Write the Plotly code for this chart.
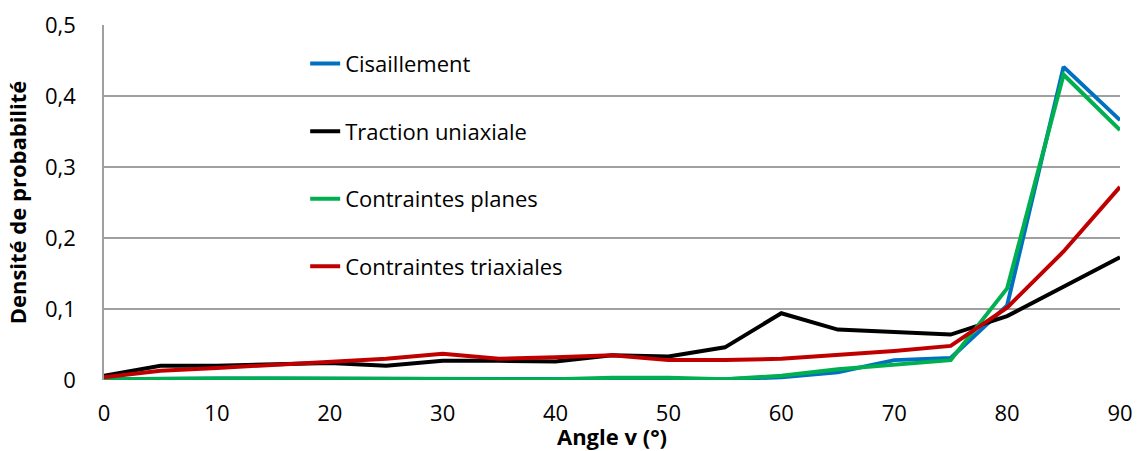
import plotly.graph_objects as go

# Angle v (degrees)
angles = [0, 5, 10, 15, 20, 25, 30, 35, 40, 45, 50, 55, 60, 65, 70, 75, 80, 85, 90]

# Probability density for each loading case
cisaillement = [0.001, 0.002, 0.002, 0.002, 0.002, 0.002, 0.002, 0.001, 0.001, 0.002, 0.002, 0.001, 0.004, 0.011, 0.028, 0.031, 0.105, 0.441, 0.366]
traction_uniaxiale = [0.006, 0.020, 0.020, 0.022, 0.024, 0.020, 0.027, 0.027, 0.026, 0.035, 0.033, 0.046, 0.094, 0.071, 0.067, 0.064, 0.090, 0.132, 0.173]
contraintes_planes = [0.001, 0.002, 0.002, 0.002, 0.002, 0.002, 0.002, 0.001, 0.001, 0.003, 0.003, 0.001, 0.006, 0.015, 0.021, 0.028, 0.129, 0.430, 0.352]
contraintes_triaxiales = [0.004, 0.013, 0.017, 0.021, 0.025, 0.030, 0.037, 0.030, 0.032, 0.035, 0.028, 0.028, 0.030, 0.035, 0.041, 0.048, 0.102, 0.181, 0.272]

series_names = ["Cisaillement", "Traction uniaxiale", "Contraintes planes", "Contraintes triaxiales"]
series_values = [cisaillement, traction_uniaxiale, contraintes_planes, contraintes_triaxiales]
series_colors = ["#0070C0", "#000000", "#00B050", "#C00000"]

y_tickvals = [0, 0.1, 0.2, 0.3, 0.4, 0.5]
y_ticktext = ["0", "0,1", "0,2", "0,3", "0,4", "0,5"]
x_tickvals = [0, 10, 20, 30, 40, 50, 60, 70, 80, 90]

FONT = "'Open Sans', 'Noto Sans', sans-serif"
SIZE = 22

fig = go.Figure()
for i, (name, vals, col) in enumerate(zip(series_names, series_values, series_colors)):
    fig.add_trace(go.Scatter(
        x=angles, y=vals, name=name, mode="lines",
        line=dict(color=col, width=4),
        legendgroup=f"g{i}",
    ))

fig.update_layout(
    width=1140, height=451,
    margin=dict(l=104, r=20, t=25, b=71),
    paper_bgcolor="white", plot_bgcolor="white",
    font=dict(family=FONT, size=SIZE, color="#000000"),
    legend=dict(
        x=0.198, y=0.95, xanchor="left", yanchor="top",
        font=dict(size=SIZE), tracegroupgap=36,
        bgcolor="rgba(0,0,0,0)",
    ),
    xaxis=dict(
        range=[0, 90], tickvals=x_tickvals, showgrid=False,
        zeroline=False, showline=False, ticks="",
        ticklabelstandoff=18, automargin=False,
        title=dict(text="<b>Angle v (°)</b>", font=dict(size=SIZE), standoff=6),
    ),
    yaxis=dict(
        range=[0, 0.5], tickvals=y_tickvals, ticktext=y_ticktext,
        showgrid=True, gridcolor="#A0A0A0", gridwidth=1.5,
        zeroline=False, showline=True, linecolor="#A0A0A0", linewidth=1.5,
        ticks="", ticklabelstandoff=22, automargin=False,
        title=dict(text="<b>Densité de probabilité</b>", font=dict(size=SIZE), standoff=12),
    ),
)

fig.write_html("out.html")
